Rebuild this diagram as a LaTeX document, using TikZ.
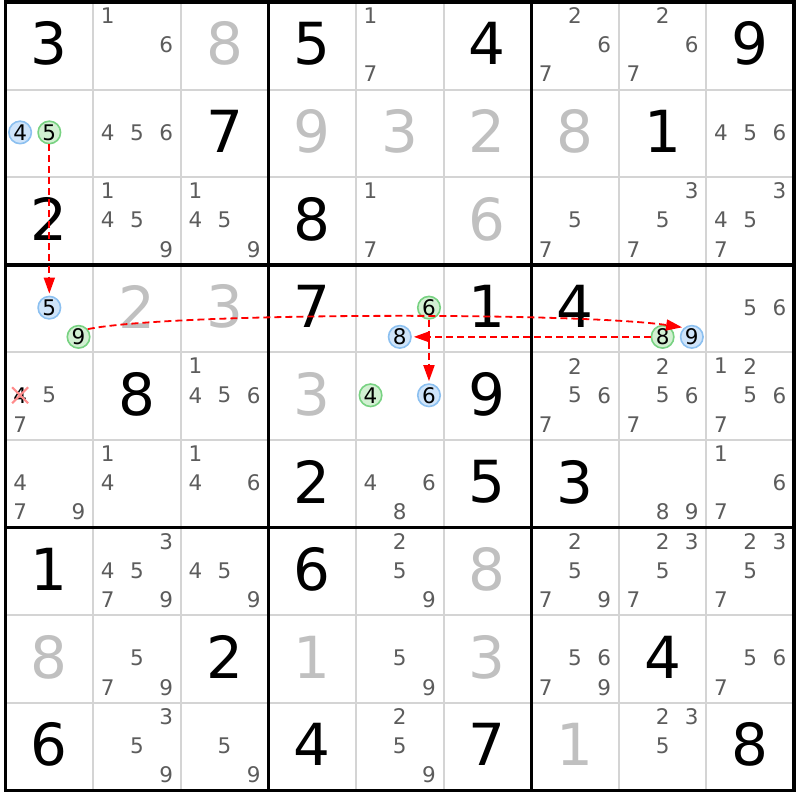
\documentclass[tikz,border=0pt]{standalone}
\usepackage{fontspec}
\usepackage{tikz}
\usetikzlibrary{arrows.meta,shapes.misc}
\newfontfamily\sudokufont{DejaVu Sans}
\definecolor{candColor}{HTML}{5C5C5C}
\definecolor{solvedColor}{HTML}{C0C0C0}
\definecolor{gridColor}{HTML}{D4D4D4}
\definecolor{linkColor}{HTML}{FF0000}
\definecolor{onFill}{HTML}{CFE4FA}
\definecolor{onLine}{HTML}{8CC0F0}
\definecolor{offFill}{HTML}{D2F0D2}
\definecolor{offLine}{HTML}{78D282}
\definecolor{elimColor}{HTML}{FF8C8C}
\newcommand{\cand}[4][cand]{%
	\pgfmathtruncatemacro\candi{mod(#4-1,3)-1}%
	\pgfmathtruncatemacro\candj{1-div(#4-1,3)}%
	\node[#1] (k#2#3#4) at ([xshift=\candi*29.2pt, yshift=\candj*29.2pt+1pt]s#2#3) {#4};}

\begin{document}
\begin{tikzpicture}[x=87.6pt, y=87.6pt,
	cand/.style={font=\sudokufont\fontsize{21.5}{21.5}\selectfont, text=candColor, inner sep=0pt},
	oncand/.style={cand, text=black, circle, draw=onLine, fill=onFill, line width=1.6pt, minimum size=22.5pt},
	offcand/.style={oncand, draw=offLine, fill=offFill},
	elimcand/.style={cand, text=black},
	given/.style={font=\sudokufont\fontsize{58}{58}\selectfont, inner sep=0pt, yshift=2pt},
	solved/.style={given, text=solvedColor},
	strike/.style={cross out, draw=elimColor, line width=2pt, minimum size=14pt, inner sep=0pt},
	link/.style={draw=linkColor, line width=1.8pt, dash pattern=on 7pt off 4pt,
		-{Triangle[length=16pt,width=11pt]}, shorten >=2pt},
	thinline/.style={draw=gridColor, line width=2pt},
	thickline/.style={draw=black, line width=3.4pt, line cap=rect}]
	\useasboundingbox (-0.063,-0.108) rectangle (9.063,9.023);
	
	% grid
	\foreach \i in {1,2,4,5,7,8} {
		\draw[thinline] (\i,0) -- (\i,9);
		\draw[thinline] (0,\i) -- (9,\i);
	}
	\foreach \i in {0,3,6,9} {
		\draw[thickline] (\i,0) -- (\i,9);
		\draw[thickline] (0,\i) -- (9,\i);
	}
	\foreach \r in {1,...,9}
		\foreach \c in {1,...,9}
			\coordinate (s\r\c) at (\c-0.5,9.5-\r);
	
	% givens and solved cells
	\foreach \r/\c/\d in {1/1/3, 1/4/5, 1/6/4, 1/9/9, 2/3/7, 2/8/1, 3/1/2, 3/4/8,
		4/4/7, 4/6/1, 4/7/4, 5/2/8, 5/6/9, 6/4/2, 6/6/5, 6/7/3, 7/1/1, 7/4/6,
		8/3/2, 8/8/4, 9/1/6, 9/4/4, 9/6/7, 9/9/8}
		\node[given] (v\r\c) at (s\r\c) {\d};
	\foreach \r/\c/\d in {1/3/8, 2/4/9, 2/5/3, 2/6/2, 2/7/8, 3/6/6, 4/2/2, 4/3/3,
		5/4/3, 7/6/8, 8/1/8, 8/4/1, 8/6/3, 9/7/1}
		\node[solved] (v\r\c) at (s\r\c) {\d};
	
	% candidates
	\foreach \r/\c/\ds in {1/2/{1,6}, 1/5/{1,7}, 1/7/{2,6,7}, 1/8/{2,6,7}, 2/2/{4,5,6}, 2/9/{4,5,6},
		3/2/{1,4,5,9}, 3/3/{1,4,5,9}, 3/5/{1,7}, 3/7/{5,7}, 3/8/{3,5,7}, 3/9/{3,4,5,7},
		4/9/{5,6}, 5/1/{5,7}, 5/3/{1,4,5,6}, 5/7/{2,5,6,7}, 5/8/{2,5,6,7}, 5/9/{1,2,5,6,7},
		6/1/{4,7,9}, 6/2/{1,4}, 6/3/{1,4,6}, 6/5/{4,6,8}, 6/8/{8,9}, 6/9/{1,6,7},
		7/2/{3,4,5,7,9}, 7/3/{4,5,9}, 7/5/{2,5,9}, 7/7/{2,5,7,9}, 7/8/{2,3,5,7}, 7/9/{2,3,5,7},
		8/2/{5,7,9}, 8/5/{5,9}, 8/7/{5,6,7,9}, 8/9/{5,6,7},
		9/2/{3,5,9}, 9/3/{5,9}, 9/5/{2,5,9}, 9/8/{2,3,5}}
		\foreach \d in \ds {\cand{\r}{\c}{\d}};
	
	% chain
	\cand[oncand]{2}{1}{4}
	\cand[offcand]{2}{1}{5}
	\cand[oncand]{4}{1}{5}
	\cand[offcand]{4}{1}{9}
	\cand[offcand]{4}{5}{6}
	\cand[oncand]{4}{5}{8}
	\cand[offcand]{4}{8}{8}
	\cand[oncand]{4}{8}{9}
	\cand[offcand]{5}{5}{4}
	\cand[oncand]{5}{5}{6}
	\cand[elimcand]{5}{1}{4}
	\node[strike] (x514) at (k514) {};
	
	\draw[link] (k215) -- (k415);
	\draw[link] (k419.40) .. controls (1.9,5.46) and (6.55,5.46) .. (k489.130);
	\draw[link] (k488) -- (k458);
	\draw[link] (k456) -- (k556);
\end{tikzpicture}
\end{document}
